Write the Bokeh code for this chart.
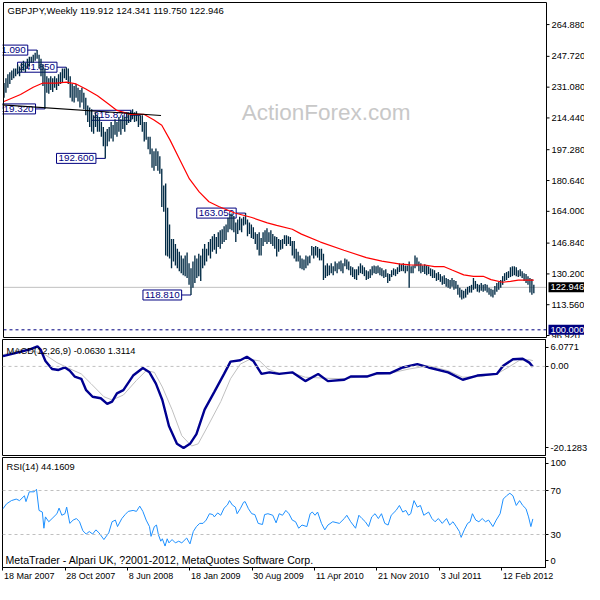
from bokeh.plotting import figure
from bokeh.layouts import column
from bokeh.models import Range1d, FixedTicker, LinearAxis, Label, Span
from bokeh.core.properties import value
from bokeh.embed import file_html
from bokeh.resources import INLINE

FONT = "Liberation Sans"

# ---------------- data (weekly GBPJPY, bar 0 = 18 Mar 2007) ----------------
high = [
    233.3, 235.9, 238.0, 239.1, 240.1, 241.2, 241.2, 243.3, 242.2, 244.3,
    245.4, 244.3, 246.4, 247.5, 247.5, 248.6, 249.6, 251.09, 248.6, 246.4,
    243.3, 241.2, 237.0, 235.9, 237.0, 235.9, 237.0, 235.9, 238.0, 239.1,
    241.2, 241.2, 241.85, 241.2, 237.0, 232.8, 231.7, 232.8, 230.7, 229.6,
    230.7, 228.0, 225.4, 221.2, 220.1, 219.1, 215.9, 217.5, 215.9, 214.9,
    212.2, 209.6, 207.0, 208.5, 209.6, 212.2, 210.6, 213.8, 212.2, 214.9,
    213.8, 215.9, 214.9, 217.5, 217.5, 218.0, 219.1, 217.5, 218.0, 215.9,
    215.87, 215.9, 212.2, 212.2, 204.3, 204.3, 198.0, 196.4, 198.0, 196.4,
    193.8, 187.0, 178.0, 179.0, 165.9, 156.9, 149.0, 149.0, 146.4, 143.8,
    142.2, 140.1, 138.5, 140.1, 141.7, 135.9, 133.2, 136.9, 140.1, 138.5,
    141.1, 140.1, 143.8, 146.4, 143.8, 147.5, 149.0, 150.6, 151.7, 150.1,
    152.7, 153.8, 154.3, 155.9, 156.9, 160.5, 162.6, 162.8, 161.5, 157.9,
    159.6, 161.1, 160.1, 161.1, 163.05, 159.6, 157.9, 156.9, 155.4, 152.7,
    151.7, 152.7, 149.6, 152.7, 153.8, 154.9, 152.7, 153.8, 151.7, 150.6,
    150.1, 149.0, 148.5, 149.0, 151.1, 151.1, 150.6, 150.1, 148.0, 148.0,
    143.8, 142.2, 140.1, 138.5, 138.0, 140.1, 139.6, 140.1, 145.3, 144.8,
    145.3, 144.8, 143.8, 143.8, 141.1, 134.8, 135.9, 134.8, 135.9, 134.3,
    136.9, 135.9, 136.9, 137.5, 135.9, 138.5, 138.0, 136.9, 134.3, 133.8,
    132.7, 132.7, 134.3, 135.9, 134.8, 133.8, 132.2, 131.7, 132.7, 134.3,
    134.8, 134.3, 134.8, 133.8, 133.2, 132.2, 132.7, 130.6, 130.1, 132.2,
    133.2, 132.7, 133.8, 135.9, 135.4, 135.9, 134.8, 134.8, 136.9, 134.3,
    134.8, 140.1, 139.0, 136.9, 135.9, 134.8, 135.4, 134.8, 134.3, 133.2,
    132.7, 132.2, 130.6, 131.2, 130.1, 129.0, 129.5, 128.0, 127.4, 126.9,
    128.0, 126.9, 126.4, 124.3, 122.7, 121.6, 121.1, 122.2, 123.2, 123.7,
    124.3, 128.0, 126.4, 124.8, 124.3, 125.3, 124.3, 124.8, 124.3, 122.7,
    122.2, 121.6, 123.7, 125.3, 125.9, 126.9, 129.0, 130.6, 131.2, 131.7,
    133.8, 134.3, 134.3, 133.8, 132.2, 132.7, 131.7, 130.6, 130.1, 129.0,
    128.0, 127.4, 124.341]
low = [
    225.4, 228.0, 230.7, 232.8, 234.9, 235.9, 237.0, 238.0, 237.0, 239.1,
    240.1, 239.1, 241.2, 242.2, 244.3, 244.3, 245.4, 246.4, 241.2, 237.0,
    231.7, 219.32, 228.0, 227.5, 229.6, 228.5, 230.7, 229.6, 231.7, 232.8,
    233.8, 235.9, 234.9, 232.8, 225.4, 223.3, 222.8, 225.4, 223.3, 220.1,
    222.8, 219.1, 215.9, 212.2, 209.6, 207.0, 205.9, 209.6, 207.0, 207.0,
    204.3, 199.1, 192.6, 199.1, 201.7, 203.3, 201.7, 205.4, 204.3, 207.0,
    205.4, 208.5, 207.0, 210.6, 211.7, 212.2, 213.8, 212.2, 212.7, 209.6,
    210.6, 207.0, 201.7, 202.7, 197.5, 194.8, 187.5, 185.9, 188.5, 185.9,
    184.3, 166.4, 163.8, 140.1, 139.6, 138.5, 133.2, 136.9, 134.8, 133.2,
    131.7, 130.6, 129.5, 129.0, 128.0, 124.3, 118.81, 122.7, 125.3, 128.0,
    129.0, 126.4, 133.2, 134.8, 136.9, 140.1, 138.5, 142.2, 143.2, 141.1,
    144.8, 143.8, 146.4, 147.4, 148.5, 152.7, 154.3, 153.8, 152.7, 147.4,
    151.7, 153.8, 152.7, 156.4, 156.9, 150.6, 151.7, 149.6, 149.0, 146.4,
    143.2, 140.1, 140.1, 145.3, 147.4, 146.4, 147.4, 146.4, 145.3, 143.8,
    139.6, 142.2, 143.2, 143.8, 146.4, 145.3, 146.4, 145.3, 140.1, 138.5,
    136.9, 136.9, 133.2, 132.7, 132.2, 133.2, 134.8, 135.9, 140.1, 138.5,
    140.1, 139.0, 137.5, 137.5, 126.9, 128.0, 129.0, 129.5, 130.6, 129.5,
    131.7, 130.6, 132.7, 131.7, 130.6, 134.3, 132.7, 132.2, 129.5, 128.5,
    127.4, 126.9, 129.5, 130.6, 130.1, 129.0, 126.9, 127.4, 128.0, 129.5,
    130.6, 130.1, 130.6, 129.5, 129.0, 128.0, 128.5, 125.3, 126.4, 128.5,
    129.5, 129.0, 130.1, 131.2, 131.7, 131.7, 130.6, 131.7, 122.7, 130.6,
    130.6, 133.2, 134.3, 131.7, 130.6, 131.2, 130.1, 129.5, 130.1, 129.0,
    128.0, 128.0, 126.4, 126.9, 125.9, 124.3, 124.8, 123.2, 122.7, 122.2,
    123.2, 121.6, 122.2, 119.0, 117.4, 116.4, 116.9, 117.4, 119.0, 120.1,
    120.1, 121.6, 122.2, 120.6, 120.1, 121.1, 120.6, 121.1, 120.1, 119.0,
    118.0, 117.4, 119.0, 120.6, 121.6, 122.7, 124.3, 126.4, 126.9, 128.0,
    128.5, 129.0, 129.5, 129.0, 128.5, 129.0, 128.0, 126.4, 125.3, 124.3,
    120.1, 119.0, 119.75]

# moving average (red) read at sampled bars
ma_x = [0, 8.5, 15, 20, 27, 32, 37, 42, 48, 54, 58, 65, 71.8, 77, 81, 85.2, 90.2, 95.2,
        100.2, 105.2, 110.2, 118.5, 126.8, 135.2, 140, 148, 152.7, 162.5, 174.5, 186,
        194, 202.7, 208.5, 216, 221, 226, 230, 236, 241, 246, 250, 256, 260, 264, 272]
ma_v = [223.3, 227.1, 231.0, 233.3, 233.3, 233.8, 232.8, 230.1, 226.4, 221.7, 218.5,
        216.4, 216.4, 213.3, 210.5, 202.6, 192.0, 181.5, 174.5, 169.2, 166.6, 163.1,
        160.8, 157.8, 156.4, 154.3, 151.7, 147.4, 143.0, 139.0, 137.1, 135.6, 135.1,
        135.0, 134.1, 134.1, 132.3, 129.7, 128.9, 128.9, 127.1, 125.7, 126.2, 126.8, 126.8]

# analyst trendline
trend_x = [-3, 80.6]
trend_y = [221.65, 215.75]

# marked swing points: (bar, price, text)
marks_bar = [17, 21, 32, 52, 70, 96, 124]
marks_price = [251.09, 219.32, 241.85, 192.6, 215.87, 118.81, 163.05]
marks_text = ["251.090", "219.320", "241.850", "192.600", "215.870", "118.810", "163.050"]

last_price = 122.946
level_price = 100.0
price_ticks = [264.88, 247.72, 231.08, 214.44, 197.28, 180.64, 164.0, 146.84, 130.2, 113.56, 96.92]
price_lo, price_hi = 95.85, 276.8

macd_x = [0, 6.8, 13.5, 17.7, 19.3, 21.8, 25.2, 28.5, 31.8, 34.3, 36.8, 40.2, 42.7, 46, 50.2,
          53.5, 56, 58.5, 61.8, 66.8, 71.8, 75.2, 78.5, 81.8, 85.2, 89.3, 92.7, 96, 99.3, 103.5,
          108.5, 113.5, 116.8, 121.8, 125.2, 128.5, 132.7, 136.8, 141.8, 148.5, 155.2, 161.8,
          166.8, 175.2, 178.5, 186.8, 191.8, 198.5, 205.2, 212.7, 218.5, 228.5, 236, 243.5,
          253.5, 256.8, 261.8, 266.8, 270.2, 272]
macd_v = [2.33, 3.06, 3.81, 4.54, 3.81, 1.23, -0.59, -0.81, -0.24, -0.97, -2.29, -2.80, -5.37,
          -6.85, -7.20, -8.46, -7.95, -6.10, -5.37, -2.07, -0.37, -1.34, -3.90, -7.58, -13.45,
          -17.49, -18.43, -17.49, -15.28, -9.78, -5.75, -1.70, 1.08, 1.39, 2.18, 1.23, -1.70,
          -1.34, -1.70, -1.34, -3.32, -1.70, -3.32, -3.02, -2.29, -2.29, -1.56, -1.56, -0.24,
          0.51, -0.24, -1.34, -3.02, -2.07, -1.70, 0.13, 1.61, 1.74, 0.86, -0.063]
sig_x = [0, 8.5, 20.2, 27.7, 33.5, 40.2, 45.2, 51.8, 56, 61.8, 68.5, 73.5, 77.7, 81.8, 86.8,
         91.8, 96.8, 100.2, 105.2, 111.8, 116.8, 121.8, 126.8, 131.8, 136, 141.8, 148.5,
         155.2, 165.2, 175.2, 186.8, 198.5, 208.5, 218.5, 228.5, 236, 245.2, 253.5, 259.3,
         265.2, 270.2, 272]
sig_v = [2.6, 3.81, 3.06, 0.86, -0.37, -1.70, -3.90, -6.85, -7.58, -6.47, -3.17, -0.97, -1.34,
         -4.65, -9.78, -15.66, -17.99, -17.49, -13.45, -7.95, -2.80, 0.51, 1.61, 1.23, -0.59,
         -1.56, -1.48, -2.44, -2.66, -2.80, -2.07, -1.56, -0.59, 0.13, -0.97, -2.44, -2.29,
         -1.70, -0.24, 1.39, 1.5, 1.31]
macd_min, macd_max = -20.1283, 6.0771

rsi_pts = [(0, 53.4), (1.8, 57.8), (4.3, 60.8), (6.8, 62.2), (8.5, 60.8), (11, 65.2), (11.8, 59.9),
           (13.5, 68.8), (16, 68.8), (17.2, 71.1), (18.5, 51.9), (20.2, 50.4), (21, 35.7), (21.8, 46.0),
           (23.5, 41.6), (25.2, 44.5), (27.7, 48.9), (28.8, 54.0), (30.2, 47.5), (31.8, 48.9),
           (32.7, 54.9), (34.3, 40.1), (36, 43.1), (37.7, 44.5), (39.3, 41.6), (41, 33.4),
           (42.7, 30.4), (44.3, 32.7), (46, 30.4), (47.7, 34.2), (49.3, 31.5), (51.8, 25.4),
           (54.3, 31.5), (56, 41.6), (57.7, 43.1), (58.8, 37.2), (61, 44.5), (62.7, 48.1),
           (64.3, 51.0), (66.8, 51.9), (68.5, 51.0), (70.2, 55.8), (71.8, 51.0), (73.5, 43.1),
           (75.2, 37.2), (76, 28.3), (77.7, 37.2), (78.8, 38.6), (79.8, 29.8), (81, 23.9),
           (81.8, 26.1), (83.2, 19.5), (84.3, 26.1), (85.2, 22.4), (86.8, 25.4), (88.5, 22.4),
           (90.2, 23.9), (91.8, 22.4), (94.3, 26.8), (96, 21.5), (97.7, 32.7), (99.3, 37.2),
           (101, 40.1), (102.7, 40.1), (104.3, 43.1), (106, 48.9), (107.7, 48.1), (108.5, 46.0),
           (110.2, 49.6), (111.8, 47.5), (113.5, 54.0), (115.2, 56.9), (116.3, 60.8), (117.7, 56.9),
           (119.3, 54.9), (120.2, 48.9), (121.8, 53.4), (123.5, 59.3), (124.3, 59.9), (126, 53.4),
           (127.7, 48.9), (129.3, 48.1), (131, 40.1), (133.2, 39.1), (134.3, 48.1), (136, 48.9),
           (138.5, 47.5), (140.2, 40.6), (141.8, 48.9), (143.5, 47.5), (145.2, 51.9), (146.8, 48.9),
           (148.5, 43.1), (150.2, 41.6), (151.8, 35.7), (153.5, 38.6), (156, 37.2), (157.7, 48.9),
           (158.8, 50.4), (160.2, 47.5), (161.5, 50.4), (163.5, 40.1), (165.2, 34.2), (166.8, 38.6),
           (169.3, 41.6), (172.7, 40.1), (175.2, 44.5), (176.5, 47.5), (178.5, 41.6), (181, 35.7),
           (182.7, 47.5), (184.3, 44.5), (186, 41.6), (187.7, 37.2), (189.3, 46.0), (191, 48.9),
           (192.7, 44.5), (194.3, 48.9), (196, 40.1), (197.7, 38.6), (199.3, 47.5), (201.8, 51.9),
           (203.5, 56.4), (205.2, 50.4), (206.8, 51.9), (208.2, 47.5), (209.3, 48.9), (211, 60.8),
           (212.7, 54.9), (214.3, 56.4), (216, 47.5), (218.5, 50.4), (220.2, 44.5), (221.8, 41.6),
           (223.5, 44.5), (225.5, 40.1), (227.7, 44.5), (229.3, 38.6), (231, 41.6), (232.7, 37.2),
           (234.3, 32.7), (235.2, 27.4), (236.8, 34.2), (238.5, 40.1), (239.8, 41.6), (241, 48.9),
           (242.7, 43.1), (244.3, 41.6), (246, 44.5), (247.7, 41.6), (249.3, 43.1), (251.5, 37.2),
           (253.2, 43.1), (255.2, 48.9), (256.8, 62.2), (258.5, 65.2), (260.2, 67.5), (261.8, 65.2),
           (263.5, 56.4), (265.2, 60.8), (266.8, 56.4), (268.5, 53.4), (269.8, 46.0), (271, 37.2),
           (272, 44.16)]
rsi_x = [p[0] for p in rsi_pts]
rsi_v = [p[1] for p in rsi_pts]

date_ticks = [0, 32, 64, 96, 128, 160, 192, 224, 256]
date_labels = ["18 Mar 2007", "28 Oct 2007", "8 Jun 2008", "18 Jan 2009", "30 Aug 2009",
               "11 Apr 2010", "21 Nov 2010", "3 Jul 2011", "12 Feb 2012"]

header_text = "GBPJPY,Weekly  119.912 124.341 119.750 122.946"
macd_text = "MACD(12,26,9) -0.0630 1.3114"
rsi_text = "RSI(14) 44.1609"
copy_text = "MetaTrader - Alpari UK, ?2001-2012, MetaQuotes Software Corp."
watermark = "ActionForex.com"

# ---------------- styling ----------------
BAR = "#002a44"
NAVY = "#000080"
SILVER = "#c0c0c0"
FW = 543                     # chart frame width (px)
X0, X1 = -0.25, 278.5        # visible bar range
PX = FW / (X1 - X0)          # px per bar
xr = Range1d(X0, X1)
FS = "9.3px"


def style_yaxis(ax):
    ax.axis_line_color = "black"
    ax.major_tick_out = 3
    ax.major_tick_in = 0
    ax.minor_tick_out = 0
    ax.minor_tick_in = 0
    ax.major_label_standoff = 2
    ax.major_label_text_font = FONT
    ax.major_label_text_font_size = FS
    ax.major_label_text_color = "black"


def mkfig(fh, yr, top, bottom, xloc=None):
    p = figure(frame_width=FW, frame_height=fh, x_range=xr, y_range=Range1d(*yr),
               output_backend="svg", toolbar_location=None, y_axis_location="right",
               x_axis_location=xloc, title=None, min_border_left=2, min_border_top=top,
               min_border_bottom=bottom, min_border_right=0)
    p.outline_line_color = "black"
    p.outline_line_width = 1
    p.grid.visible = False
    p.background_fill_color = "white"
    p.border_fill_color = "white"
    style_yaxis(p.yaxis[0])
    return p


def lab(p, x, y, text, size=FS, color="black"):
    p.add_layout(Label(x=x, y=y, text=text, text_font=FONT, text_font_size=size,
                       text_color=color, text_baseline="middle"))


# ---------------- main price panel (frame also holds its price scale) ----------------
MH = 335                                   # chart height in px
ppu = MH / (price_hi - price_lo)
mx0 = X0 - 1 / PX
p1 = figure(frame_width=583, frame_height=MH + 2,
            x_range=Range1d(mx0, mx0 + 583 / PX),
            y_range=Range1d(price_lo - 1 / ppu, price_hi + 1 / ppu),
            output_backend="svg", toolbar_location=None, x_axis_location=None,
            y_axis_location=None, title=None, min_border_left=1, min_border_top=1,
            min_border_bottom=0, min_border_right=0)
p1.outline_line_color = None
p1.grid.visible = False
p1.background_fill_color = "white"
p1.border_fill_color = "white"

wm = p1.text(x=[122], y=[217.2], text=[watermark], text_font=value(FONT),
             text_font_size=value("22.5px"), text_color="#c8c8c8", text_baseline="middle")
wm.level = "underlay"

p1.segment(x0=[X0], y0=[last_price], x1=[X1], y1=[last_price], line_color=SILVER, line_width=1)
p1.segment(x0=[X0], y0=[level_price], x1=[X1], y1=[level_price], line_color=NAVY,
           line_width=1, line_dash="3 3")

box_gap = 4.8
box_x = [b - box_gap for b in marks_bar]
p1.text(x=box_x, y=marks_price, text=marks_text, text_font=value(FONT),
        text_font_size=value("9.8px"), text_color=NAVY, text_align="right",
        text_baseline="middle", background_fill_color="white",
        border_line_color=NAVY, border_line_width=1, padding=2)
p1.segment(x0=box_x, y0=marks_price, x1=marks_bar, y1=marks_price, line_color=NAVY, line_width=1)

idx = list(range(len(high)))
p1.segment(x0=idx, y0=low, x1=idx, y1=high, line_color=BAR, line_width=1.35)
p1.line(ma_x, ma_v, line_color="#ff0000", line_width=1.2)
p1.line(trend_x, trend_y, line_color="black", line_width=1.2)

# chart border
p1.quad(left=[X0], right=[X1], bottom=[price_lo], top=[price_hi], fill_color=None,
        line_color="black", line_width=1)

# price scale on the right of the chart
tick_len = 3 / PX
p1.segment(x0=[X1] * len(price_ticks), y0=price_ticks, x1=[X1 + tick_len] * len(price_ticks),
           y1=price_ticks, line_color="black", line_width=1)
p1.text(x=[X1 + 5 / PX] * len(price_ticks), y=price_ticks,
        text=[f"{t:.3f}" for t in price_ticks], text_font=value(FONT),
        text_font_size=value(FS), text_color="black", text_baseline="middle")
p1.text(x=[X1 + 2 / PX], y=[last_price], text=[f"{last_price:.3f}"], text_font=value(FONT),
        text_font_size=value(FS), text_color="white", text_baseline="middle",
        background_fill_color="black", padding=2)
p1.text(x=[X1 + 2 / PX], y=[level_price], text=[f"{level_price:.3f}"], text_font=value(FONT),
        text_font_size=value(FS), text_color="white", text_baseline="middle",
        background_fill_color=NAVY, padding=2)

lab(p1, 1.8, 272.3, header_text, size="9.5px")

# ---------------- MACD panel ----------------
p2 = mkfig(116, (macd_min, macd_max), 1, 1)
macd_tick_pos = [4.38, 0.0, -18.37]
macd_tick_txt = [f"{macd_max:.4f}", "0.00", f"{macd_min:.4f}"]
p2.yaxis[0].ticker = FixedTicker(ticks=macd_tick_pos)
p2.yaxis[0].major_label_overrides = dict(zip(macd_tick_pos, macd_tick_txt))
p2.add_layout(Span(location=0, dimension="width", line_color=SILVER, line_width=1, line_dash="3 3"))
p2.line(sig_x, sig_v, line_color=SILVER, line_width=1)
p2.line(macd_x, macd_v, line_color="#000090", line_width=2.4)
lab(p2, 1.8, 3.55, macd_text)

# ---------------- RSI panel ----------------
p3 = mkfig(110, (0, 100), 1, 0, xloc="below")
rsi_tick_pos = [94.7, 70, 30, 6.2]
rsi_tick_txt = ["100", "70", "30", "0"]
p3.yaxis[0].ticker = FixedTicker(ticks=rsi_tick_pos)
p3.yaxis[0].major_label_overrides = dict(zip(rsi_tick_pos, rsi_tick_txt))
for lv in (70, 30):
    p3.add_layout(Span(location=lv, dimension="width", line_color=SILVER, line_width=1,
                       line_dash="3 3"))
p3.line(rsi_x, rsi_v, line_color="#1e90ff", line_width=1)
lab(p3, 1.8, 91.2, rsi_text)
lab(p3, 1.3, 6.8, copy_text, size="10.6px")

xa = p3.xaxis[0]
xa.ticker = FixedTicker(ticks=date_ticks)
xa.major_label_text_font_size = "1px"
xa.major_label_text_color = None
xa.major_label_standoff = 0
xa.major_tick_out = 3
xa.major_tick_in = 0
xa.minor_tick_out = 0
xa.minor_tick_in = 0
xa.axis_line_color = "black"

CW = {" ": .278, "M": .833, "a": .556, "r": .333, "O": .778, "c": .5, "t": .278, "J": .5,
      "u": .556, "n": .556, "A": .667, "p": .556, "N": .722, "o": .556, "v": .5, "F": .611,
      "e": .556, "b": .556, "l": .222, "g": .556}
LFS = 9.0
lab_pos = [round(t + (sum(CW.get(c, .556) for c in s) * LFS / 2 + 1) / PX, 3)
           for t, s in zip(date_ticks, date_labels)]
xa2 = LinearAxis(ticker=FixedTicker(ticks=lab_pos),
                 major_label_overrides=dict(zip(lab_pos, date_labels)),
                 major_tick_out=0, major_tick_in=0, minor_tick_out=0, minor_tick_in=0,
                 axis_line_color=None, major_label_standoff=0,
                 major_label_text_font=FONT, major_label_text_font_size=f"{LFS}px",
                 major_label_text_color="black")
p3.add_layout(xa2, "below")

layout = column(p1, p2, p3, spacing=0)
open("out.html", "w").write(file_html(layout, INLINE))
